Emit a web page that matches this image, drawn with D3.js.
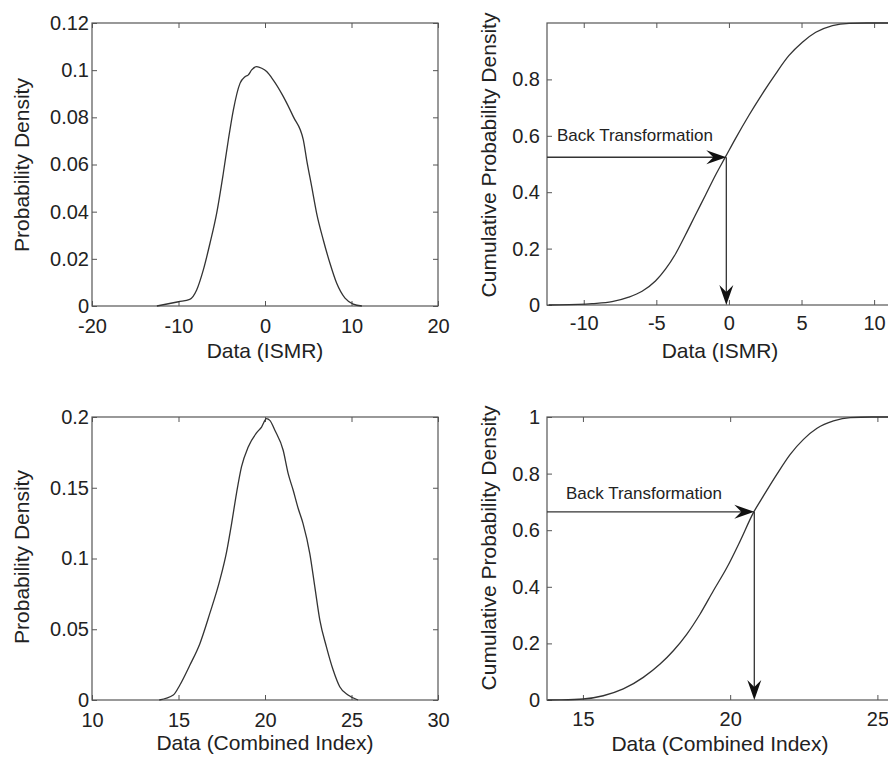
<!DOCTYPE html>
<html>
<head>
<meta charset="utf-8">
<script src="https://cdn.jsdelivr.net/npm/d3@7"></script>
<style>
  body { margin: 0; background: #fff; }
  text { font-family: "Liberation Sans", Arial, sans-serif; fill: #222; }
</style>
</head>
<body>
<svg id="fig" width="888" height="762"></svg>
<script>
// --- data ---
var ismrPdfX = [-12.5, -10.0, -8.7, -7.9, -7.13, -6.36, -5.59, -4.82, -4.24, -3.66, -2.89, -2.31, -1.93, -1.54, -0.96, -0.38, 0.19, 0.96, 2.12, 3.27, 4.43, 4.82, 5.4, 5.97, 6.74, 7.51, 8.29, 9.25, 10.2, 11.2];
var ismrPdfY = [0, 0.0018, 0.0028, 0.0068, 0.0153, 0.0266, 0.0393, 0.0563, 0.0704, 0.0831, 0.0944, 0.0972, 0.098, 0.1001, 0.1015, 0.1008, 0.0994, 0.0958, 0.0888, 0.0803, 0.0704, 0.0619, 0.0506, 0.0393, 0.028, 0.0181, 0.0096, 0.0033, 0.0008, 0];

var ismrCdfX = [-12.4, -11.7, -9.43, -8.05, -6.9, -5.98, -5.06, -4.37, -3.68, -2.99, -2.3, -1.61, -0.92, -0.23, 0.46, 1.38, 2.3, 3.22, 4.14, 5.06, 5.98, 7.13, 8.28, 9.5, 11.3];
var ismrCdfY = [0, 0.0005, 0.005, 0.012, 0.028, 0.049, 0.085, 0.127, 0.181, 0.249, 0.32, 0.39, 0.461, 0.526, 0.591, 0.673, 0.749, 0.82, 0.885, 0.932, 0.967, 0.991, 0.999, 1, 1];

var ciPdfX = [13.89, 14.7, 15.08, 15.66, 16.24, 16.81, 17.39, 17.78, 18.07, 18.35, 18.64, 19.03, 19.51, 19.8, 20.09, 20.28, 20.57, 21.05, 21.34, 21.63, 21.92, 22.2, 22.59, 22.88, 23.17, 23.55, 23.94, 24.32, 24.8, 25.38];
var ciPdfY = [0, 0.0035, 0.0106, 0.0247, 0.04, 0.0612, 0.0847, 0.1047, 0.1247, 0.1459, 0.1647, 0.1788, 0.1887, 0.1929, 0.1988, 0.1976, 0.1906, 0.1765, 0.16, 0.1482, 0.1353, 0.1247, 0.1035, 0.08, 0.0565, 0.0376, 0.0212, 0.0094, 0.0035, 0];

var ciCdfX = [13.8, 14.22, 15.01, 15.69, 16.37, 17.05, 17.62, 18.07, 18.53, 18.98, 19.43, 19.89, 20.34, 20.79, 21.13, 21.59, 22.04, 22.49, 22.95, 23.51, 24.08, 24.8, 25.5];
var ciCdfY = [0, 0.0005, 0.0035, 0.015, 0.039, 0.08, 0.127, 0.174, 0.233, 0.304, 0.386, 0.468, 0.562, 0.662, 0.721, 0.798, 0.868, 0.921, 0.96, 0.986, 0.998, 1, 1];

// back-transformation arrows: [data value, cumulative probability]
var ismrBack = [-0.18, 0.524];
var ciBack = [20.82, 0.665];

var tlXTicks = [-20, -10, 0, 10, 20], tlYTicks = [0, 0.02, 0.04, 0.06, 0.08, 0.1, 0.12];
var trXTicks = [-10, -5, 0, 5, 10], trYTicks = [0, 0.2, 0.4, 0.6, 0.8];
var blXTicks = [10, 15, 20, 25, 30], blYTicks = [0, 0.05, 0.1, 0.15, 0.2];
var brXTicks = [15, 20, 25], brYTicks = [0, 0.2, 0.4, 0.6, 0.8, 1];

var svg = d3.select('#fig');
svg.append('rect').attr('width', 888).attr('height', 762).attr('fill', '#fff');

var fmt = function (d) { return String(+d.toFixed(4)); };

function drawPanel(p) {
    var x = d3.scaleLinear().domain(p.xDomain).range(p.xRange);
    var y = d3.scaleLinear().domain(p.yDomain).range(p.yRange);
    var g = svg.append('g');

    // frame ticks on all four sides, pointing inward
    var bottom = g.append('g').attr('transform', 'translate(0,' + p.yRange[0] + ')')
        .call(d3.axisBottom(x).tickValues(p.xTicks).tickFormat(fmt).tickSizeInner(-5).tickSizeOuter(0).tickPadding(p.xPad));
    var top = g.append('g').attr('transform', 'translate(0,' + p.yRange[1] + ')')
        .call(d3.axisTop(x).tickValues(p.xTicks).tickFormat('').tickSizeInner(-5).tickSizeOuter(0));
    var left = g.append('g').attr('transform', 'translate(' + p.xRange[0] + ',0)')
        .call(d3.axisLeft(y).tickValues(p.yTicks).tickFormat(fmt).tickSizeInner(-5).tickSizeOuter(0).tickPadding(p.yPad));
    var right = g.append('g').attr('transform', 'translate(' + p.xRange[1] + ',0)')
        .call(d3.axisRight(y).tickValues(p.yTicks).tickFormat('').tickSizeInner(-5).tickSizeOuter(0));

    [bottom, top, left, right].forEach(function (a) {
        a.select('.domain').remove();
        a.selectAll('line').attr('stroke', '#555').attr('stroke-width', 1);
        a.selectAll('text').attr('font-size', 20).attr('fill', '#222')
            .style('font-family', '"Liberation Sans", Arial, sans-serif');
    });

    g.append('rect')
        .attr('x', p.xRange[0]).attr('y', p.yRange[1])
        .attr('width', p.xRange[1] - p.xRange[0]).attr('height', p.yRange[0] - p.yRange[1])
        .attr('fill', 'none').attr('stroke', '#555').attr('stroke-width', 1.2);

    var pts = p.xs.map(function (v, i) { return [v, p.ys[i]]; });
    var line = d3.line()
        .x(function (d) { return x(d[0]); })
        .y(function (d) { return y(d[1]); })
        .curve(d3.curveMonotoneX);
    g.append('path').datum(pts)
        .attr('d', line).attr('fill', 'none')
        .attr('stroke', '#333').attr('stroke-width', 1.3);

    if (p.back) {
        var bx = x(p.back[0]), by = y(p.back[1]);
        g.append('line').attr('x1', p.xRange[0]).attr('y1', by).attr('x2', bx - 6).attr('y2', by)
            .attr('stroke', '#333').attr('stroke-width', 1.3);
        g.append('line').attr('x1', bx).attr('y1', by).attr('x2', bx).attr('y2', y(0) - 6)
            .attr('stroke', '#333').attr('stroke-width', 1.3);
        var head = 'M0,0L-20,-7L-13,0L-20,7Z';
        g.append('path').attr('d', head).attr('fill', '#111')
            .attr('transform', 'translate(' + bx + ',' + by + ')');
        g.append('path').attr('d', head).attr('fill', '#111')
            .attr('transform', 'translate(' + bx + ',' + y(0) + ') rotate(90)');
        g.append('text').attr('x', p.backText[0]).attr('y', p.backText[1])
            .attr('font-size', 17).text('Back Transformation');
    }

    g.append('text')
        .attr('x', p.xLabel[0]).attr('y', p.xLabel[1])
        .attr('text-anchor', 'middle').attr('font-size', 21)
        .text(p.xTitle);
    g.append('text')
        .attr('transform', 'translate(' + p.yLabel[0] + ',' + p.yLabel[1] + ') rotate(-90)')
        .attr('text-anchor', 'middle').attr('font-size', 21)
        .text(p.yTitle);
}

drawPanel({
    xs: ismrPdfX, ys: ismrPdfY, xDomain: [-20, 20], yDomain: [0, 0.12],
    xRange: [92, 438], yRange: [306, 23], xTicks: tlXTicks, yTicks: tlYTicks, xPad: 13, yPad: 3,
    xTitle: 'Data (ISMR)', yTitle: 'Probability Density', xLabel: [265, 358], yLabel: [29, 165]
});
drawPanel({
    xs: ismrCdfX, ys: ismrCdfY, xDomain: [-12.53, 11.3], yDomain: [0, 1],
    xRange: [547, 893], yRange: [305, 23], xTicks: trXTicks, yTicks: trYTicks, xPad: 11, yPad: 7,
    xTitle: 'Data (ISMR)', yTitle: 'Cumulative Probability Density', xLabel: [720, 358], yLabel: [496, 155],
    back: ismrBack, backText: [557, 141]
});
drawPanel({
    xs: ciPdfX, ys: ciPdfY, xDomain: [10, 30], yDomain: [0, 0.2],
    xRange: [92, 438], yRange: [700, 417], xTicks: blXTicks, yTicks: blYTicks, xPad: 13, yPad: 3,
    xTitle: 'Data (Combined Index)', yTitle: 'Probability Density', xLabel: [265, 750], yLabel: [29, 557]
});
drawPanel({
    xs: ciCdfX, ys: ciCdfY, xDomain: [13.78, 25.53], yDomain: [0, 1],
    xRange: [547, 893], yRange: [700, 417], xTicks: brXTicks, yTicks: brYTicks, xPad: 12, yPad: 7,
    xTitle: 'Data (Combined Index)', yTitle: 'Cumulative Probability Density', xLabel: [720, 751], yLabel: [496, 548],
    back: ciBack, backText: [566, 499]
});
</script>
</body>
</html>
